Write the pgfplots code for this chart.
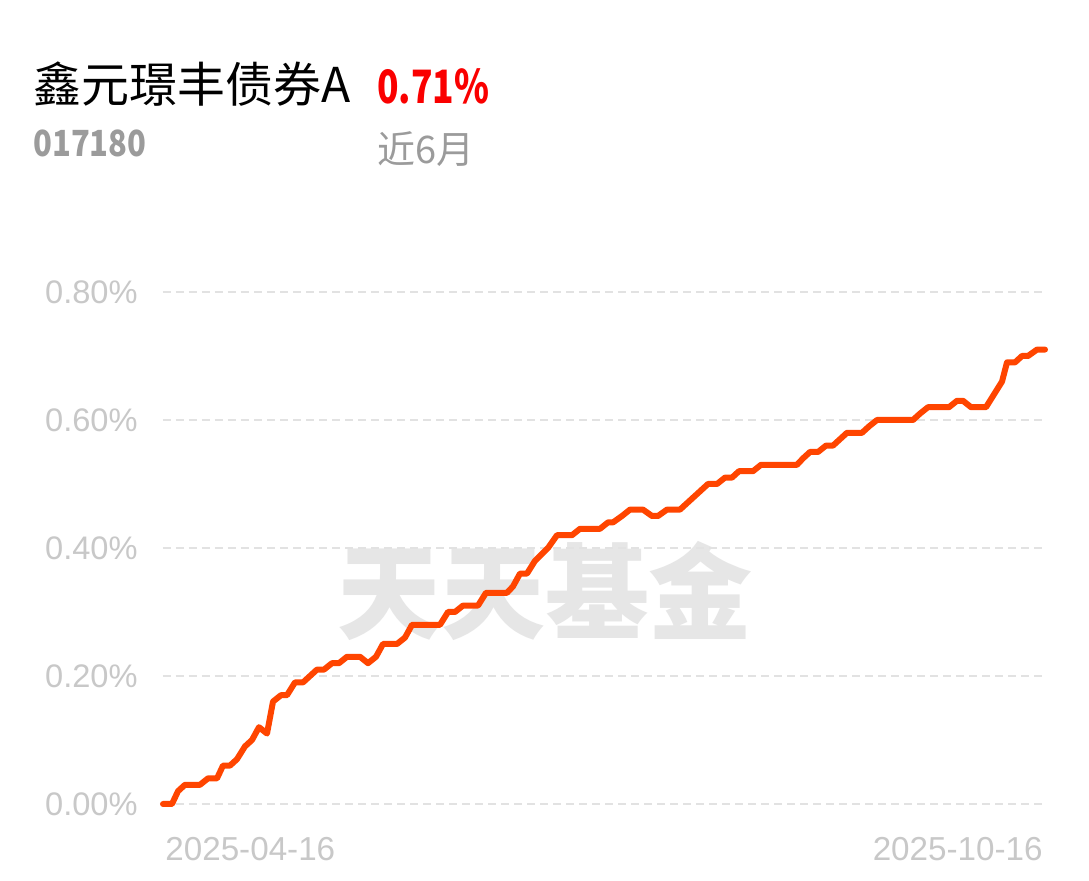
\documentclass[border=0pt]{standalone}
\usepackage{fontspec}
\usepackage{pgfplots}
\pgfplotsset{compat=1.18}
\setmainfont{Liberation Sans}
\newfontfamily\cjk{Noto Sans CJK SC}
\newfontfamily\numfont{Noto Sans CJK SC}[FakeStretch=0.86]
\newfontfamily\numfontn{Noto Sans CJK SC}[FakeStretch=0.77]
\definecolor{lineC}{RGB}{255,69,0}
\definecolor{lblgray}{RGB}{200,200,200}
\definecolor{gridgray}{RGB}{226,226,226}
\definecolor{wm}{RGB}{230,230,230}
\definecolor{subgray}{RGB}{155,155,155}
\definecolor{redC}{RGB}{250,0,0}
\begin{document}
\begin{tikzpicture}[x=1pt,y=1pt]
\path[use as bounding box] (0,0) rectangle (544.5,440.5);
\fill[white] (0,0) rectangle (544.5,440.5);
\node[font=\cjk\bfseries\fontsize{52}{52}\selectfont, text=wm, inner sep=0pt] at (272.5,145) {天天基金};
\begin{axis}[
  at={(81.5pt,38.5pt)}, anchor=south west,
  scale only axis, width=441pt, height=256pt,
  xmin=163, xmax=1045, ymin=0, ymax=0.8,
  clip=false,
  axis line style={draw=none},
  major tick length=0pt, tick style={draw=none},
  ytick={0,0.2,0.4,0.6,0.8},
  yticklabels={0.00\%,0.20\%,0.40\%,0.60\%,0.80\%},
  yticklabel style={font=\fontsize{16.3}{16.3}\selectfont, text=lblgray, anchor=east, inner sep=0pt, xshift=-12.5pt},
  ymajorgrids,
  grid style={gridgray, line width=1pt, dash pattern=on 4pt off 2.5pt},
  xtick={163}, xticklabels={2025-04-16},
  xticklabel style={font=\fontsize{16.6}{16.6}\selectfont, text=lblgray, anchor=north west, inner sep=0pt, yshift=-16.5pt, xshift=1pt},
  extra x ticks={1045}, extra x tick labels={2025-10-16},
  extra x tick style={grid=none, xticklabel style={anchor=north east, xshift=-2pt}},
]
\addplot[color=lineC, line width=3pt, line join=round, line cap=round] coordinates {
(163,0.00) (172,0.00) (178,0.02) (185,0.03) (200,0.03) (208,0.04) (217,0.04)
(223,0.06) (230,0.06) (237,0.07) (245,0.09) (252,0.10) (259,0.12) (267,0.11)
(273,0.16) (281,0.17) (287,0.17) (295,0.19) (303,0.19) (310,0.20) (317,0.21)
(324,0.21) (332,0.22) (339,0.22) (347,0.23) (360,0.23) (368,0.22) (376,0.23)
(383,0.25) (397,0.25) (405,0.26) (412,0.28) (440,0.28) (448,0.30) (455,0.30)
(463,0.31) (478,0.31) (486,0.33) (507,0.33) (513,0.34) (520,0.36) (527,0.36)
(535,0.38) (548,0.40) (557,0.42) (572,0.42) (580,0.43) (600,0.43) (608,0.44)
(613,0.44) (622,0.45) (630,0.46) (643,0.46) (652,0.45) (658,0.45) (667,0.46)
(680,0.46) (687,0.47) (694,0.48) (701,0.49) (708,0.50) (717,0.50) (725,0.51)
(732,0.51) (739,0.52) (753,0.52) (761,0.53) (797,0.53) (803,0.54) (810,0.55)
(818,0.55) (826,0.56) (833,0.56) (840,0.57) (847,0.58) (862,0.58) (869,0.59)
(877,0.60) (913,0.60) (920,0.61) (928,0.62) (949,0.62) (957,0.63) (963,0.63)
(971,0.62) (986,0.62) (994,0.64) (1002,0.66) (1007,0.69) (1015,0.69) (1022,0.70)
(1028,0.70) (1037,0.71) (1045,0.71)
};
\end{axis}
\node[font=\cjk\fontsize{24}{24}\selectfont, anchor=base west, inner sep=0pt] at (16.5,389) {鑫元璟丰债券A};
\node[font=\numfontn\bfseries\fontsize{23}{23}\selectfont, text=redC, anchor=base west, inner sep=0pt] at (188.5,388.5) {0.71\%};
\node[font=\numfont\bfseries\fontsize{18}{18}\selectfont, text=subgray, anchor=base west, inner sep=0pt] at (16.5,362) {017180};
\node[font=\cjk\fontsize{19}{19}\selectfont, text=subgray, anchor=base west, inner sep=0pt] at (188.5,358.5) {近6月};
\end{tikzpicture}
\end{document}
